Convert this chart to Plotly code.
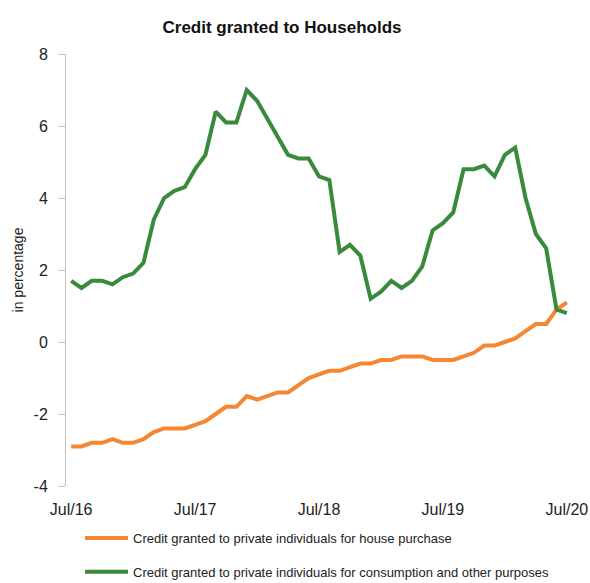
import plotly.graph_objects as go

month_names = ["Jan", "Feb", "Mar", "Apr", "May", "Jun", "Jul", "Aug", "Sep", "Oct", "Nov", "Dec"]
months = []
for k in range(49):
    m = (6 + k) % 12
    yr = 16 + (6 + k) // 12
    months.append(f"{month_names[m]}/{yr}")

tick_labels = ["Jul/16", "Jul/17", "Jul/18", "Jul/19", "Jul/20"]
y_tick_values = [-4, -2, 0, 2, 4, 6, 8]
y_tick_text = ["-4", "-2", "0", "2", "4", "6", "8"]

house_purchase = [
    -2.9, -2.9, -2.8, -2.8, -2.7, -2.8, -2.8, -2.7, -2.5, -2.4, -2.4, -2.4,
    -2.3, -2.2, -2.0, -1.8, -1.8, -1.5, -1.6, -1.5, -1.4, -1.4, -1.2, -1.0,
    -0.9, -0.8, -0.8, -0.7, -0.6, -0.6, -0.5, -0.5, -0.4, -0.4, -0.4, -0.5,
    -0.5, -0.5, -0.4, -0.3, -0.1, -0.1, 0.0, 0.1, 0.3, 0.5, 0.5, 0.9, 1.1,
]
consumption = [
    1.7, 1.5, 1.7, 1.7, 1.6, 1.8, 1.9, 2.2, 3.4, 4.0, 4.2, 4.3,
    4.8, 5.2, 6.4, 6.1, 6.1, 7.0, 6.7, 6.2, 5.7, 5.2, 5.1, 5.1,
    4.6, 4.5, 2.5, 2.7, 2.4, 1.2, 1.4, 1.7, 1.5, 1.7, 2.1, 3.1,
    3.3, 3.6, 4.8, 4.8, 4.9, 4.6, 5.2, 5.4, 4.0, 3.0, 2.6, 0.9, 0.8,
]

series_names = [
    "Credit granted to private individuals for house purchase",
    "Credit granted to private individuals for consumption and other purposes",
]
colors = ["#F58634", "#3A8A3C"]

FONT = "Liberation Sans, Arial, sans-serif"
GRAY = "#BFBFBF"

fig = go.Figure()
fig.add_trace(go.Scatter(x=months, y=house_purchase, mode="lines", name=series_names[0],
                         legendgroup="a", line=dict(color=colors[0], width=4)))
fig.add_trace(go.Scatter(x=months, y=consumption, mode="lines", name=series_names[1],
                         legendgroup="b", line=dict(color=colors[1], width=4)))

boundary_ticks = [-0.5, 11.5, 23.5, 35.5, 47.5]
zero_pos = (0 - (-4)) / (8 - (-4))

W, H = 590, 583
L, R, T, B = 66, 18, 54, 97
PW, PH = W - L - R, H - T - B
fig.update_layout(
    width=W, height=H,
    margin=dict(l=L, r=R, t=T, b=B, autoexpand=False),
    paper_bgcolor="white", plot_bgcolor="white",
    font=dict(family=FONT, color="#222222"),
    title=dict(text="<b>Credit granted to Households</b>", x=282 / W, xanchor="center",
               y=1 - 27 / H, yanchor="middle",
               font=dict(size=17, family=FONT, color="#111111")),
    xaxis=dict(type="category", categoryarray=months, range=[-0.5, 48.5],
               tickmode="array", tickvals=tick_labels, ticktext=tick_labels,
               showgrid=False, zeroline=False, showline=False, ticks="",
               tickfont=dict(size=16, family=FONT, color="#222222"),
               ticklabelstandoff=12),
    xaxis2=dict(overlaying="x", anchor="free", position=zero_pos, range=[-0.5, 48.5],
                tickmode="array", tickvals=boundary_ticks, showticklabels=False,
                ticks="outside", ticklen=5, tickcolor=GRAY, tickwidth=1,
                showline=True, linecolor=GRAY, linewidth=1,
                showgrid=False, zeroline=False),
    xaxis3=dict(overlaying="x", anchor="free", position=zero_pos, range=[-0.5, 48.5],
                tickmode="array", tickvals=boundary_ticks, showticklabels=False,
                ticks="inside", ticklen=5, tickcolor=GRAY, tickwidth=1,
                showline=False, showgrid=False, zeroline=False),
    yaxis=dict(range=[-4, 8], tickmode="array", tickvals=y_tick_values, ticktext=y_tick_text,
               showgrid=False, zeroline=False, showline=True, linecolor=GRAY, linewidth=1,
               ticks="outside", ticklen=6, tickcolor=GRAY,
               tickfont=dict(size=16, family=FONT, color="#222222"),
               ticklabelstandoff=8,
               title=dict(text="in percentage", font=dict(size=14, family=FONT, color="#222222"),
                          standoff=6)),
    legend=dict(orientation="v", x=(80 - L) / PW, xanchor="left",
                y=-(523 - (H - B)) / PH, yanchor="top",
                traceorder="grouped",
                font=dict(size=13, family=FONT, color="#222222"),
                tracegroupgap=14, itemwidth=43, bgcolor="rgba(0,0,0,0)"),
    showlegend=True,
)

fig.write_html("out.html", config={"displayModeBar": False},
               post_script="document.body.style.margin='0';document.body.style.overflow='hidden';")
